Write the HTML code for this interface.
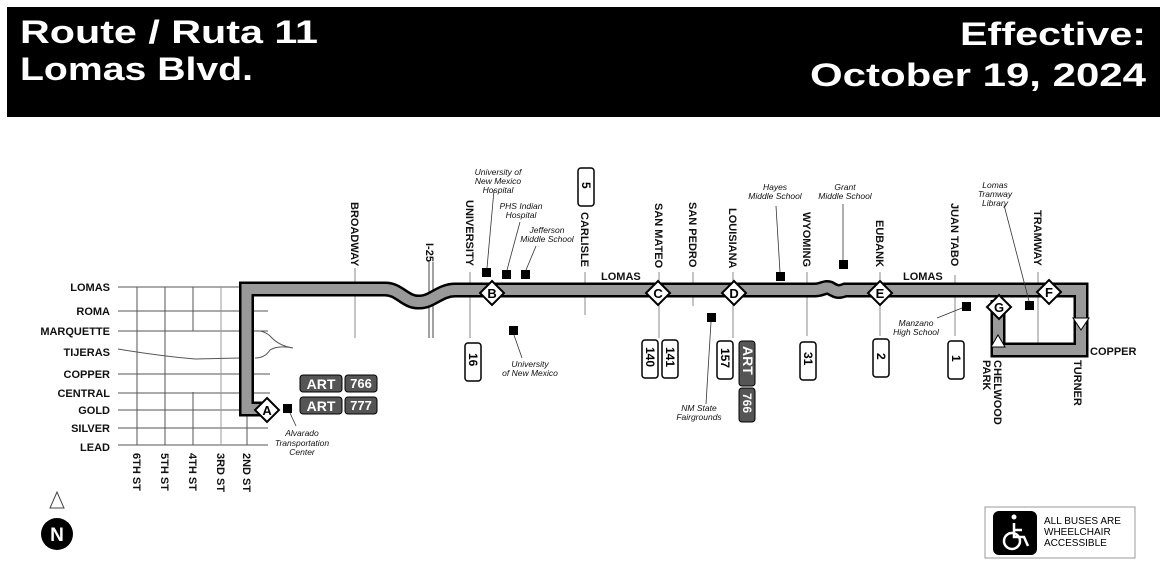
<!DOCTYPE html>
<html><head><meta charset="utf-8"><style>
html,body{margin:0;padding:0;background:#fff;}
svg{display:block;font-family:"Liberation Sans",Arial,sans-serif;}
.st{font-size:11px;font-weight:bold;fill:#111;}
.vs{font-size:11px;font-weight:bold;fill:#111;}
.poi{font-size:8.5px;font-style:italic;fill:#111;}
.ln{stroke:#555;stroke-width:1;fill:none;}
.lg{stroke:#888;stroke-width:1;fill:none;}
</style></head><body>
<svg width="1168" height="576" viewBox="0 0 1168 576" xmlns="http://www.w3.org/2000/svg">
<rect x="7" y="7" width="1153" height="110" fill="#000"/>
<g fill="#fff" font-weight="bold" font-size="32">
<text x="20" y="43" textLength="298" lengthAdjust="spacingAndGlyphs">Route / Ruta 11</text>
<text x="20" y="80" textLength="233" lengthAdjust="spacingAndGlyphs">Lomas Blvd.</text>
<text x="1146" y="45" text-anchor="end" textLength="186" lengthAdjust="spacingAndGlyphs">Effective:</text>
<text x="1146" y="86" text-anchor="end" textLength="336" lengthAdjust="spacingAndGlyphs">October 19, 2024</text>
</g>

<g class="ln">
<line x1="118" y1="287" x2="240" y2="287"/><line x1="118" y1="311" x2="268" y2="311"/>
<line x1="118" y1="331" x2="268" y2="331"/><line x1="118" y1="374" x2="270" y2="374"/>
<line x1="118" y1="393" x2="270" y2="393"/><line x1="118" y1="410" x2="240" y2="410"/>
<line x1="118" y1="428" x2="268" y2="428"/><line x1="118" y1="445" x2="268" y2="445"/>
<line x1="137" y1="287" x2="137" y2="445"/><line x1="165" y1="287" x2="165" y2="445"/>
<line x1="193" y1="287" x2="193" y2="331"/><line x1="193" y1="392" x2="193" y2="445"/>
<line x1="221" y1="287" x2="221" y2="445" stroke="#999"/><line x1="247" y1="410" x2="247" y2="445"/>
<path d="M118,349 Q160,356 195,359 L240,358 M255,358 Q265,358 270,350 Q278,345 293,348 M255,331 Q265,330 272,338 Q280,346 293,348"/>
</g>
<g class="st" text-anchor="end">
<text x="110" y="291">LOMAS</text><text x="110" y="315">ROMA</text><text x="110" y="335">MARQUETTE</text>
<text x="110" y="356">TIJERAS</text><text x="110" y="378">COPPER</text><text x="110" y="397">CENTRAL</text>
<text x="110" y="414">GOLD</text><text x="110" y="432">SILVER</text><text x="110" y="451">LEAD</text>
</g>
<g class="vs">
<text transform="translate(133,453) rotate(90)">6TH ST</text>
<text transform="translate(161,453) rotate(90)">5TH ST</text>
<text transform="translate(189,453) rotate(90)">4TH ST</text>
<text transform="translate(217,453) rotate(90)">3RD ST</text>
<text transform="translate(243,453) rotate(90)">2ND ST</text>
</g>

<g class="lg">
<line x1="355" y1="268" x2="355" y2="338"/>
<line x1="429" y1="262" x2="429" y2="338" stroke="#444"/><line x1="433" y1="262" x2="433" y2="338" stroke="#444"/>
<line x1="470" y1="272" x2="470" y2="338"/>
<line x1="585" y1="272" x2="585" y2="315"/>
<line x1="659" y1="272" x2="659" y2="338"/>
<line x1="693" y1="272" x2="693" y2="306"/>
<line x1="733" y1="272" x2="733" y2="338"/>
<line x1="807" y1="272" x2="807" y2="336"/>
<line x1="880" y1="272" x2="880" y2="336"/>
<line x1="955" y1="275" x2="955" y2="336"/>
<line x1="1038" y1="272" x2="1038" y2="356"/>
</g>
<g class="vs">
<text transform="translate(351,202) rotate(90)">BROADWAY</text>
<text transform="translate(426,243) rotate(90)">I-25</text>
<text transform="translate(466,200) rotate(90)">UNIVERSITY</text>
<text transform="translate(581,212) rotate(90)">CARLISLE</text>
<text transform="translate(655,203) rotate(90)">SAN MATEO</text>
<text transform="translate(689,202) rotate(90)">SAN PEDRO</text>
<text transform="translate(729,208) rotate(90)">LOUISIANA</text>
<text transform="translate(803,212) rotate(90)">WYOMING</text>
<text transform="translate(876,220) rotate(90)">EUBANK</text>
<text transform="translate(951,203) rotate(90)">JUAN TABO</text>
<text transform="translate(1034,210) rotate(90)">TRAMWAY</text>
<text transform="translate(994,360) rotate(90)">CHELWOOD</text>
<text transform="translate(983,360) rotate(90)">PARK</text>
<text transform="translate(1074,360) rotate(90)">TURNER</text>
</g>
<text class="st" x="1090" y="355">COPPER</text>

<g fill="none" stroke-linejoin="miter">
<path d="M262,409 L246.5,409 L246.5,289 L385,289 C400,289 405,303 420,302 C432,302 440,290 455,290 L815,290 C822,290 825,286 830,288 C835,291 838,293 845,290 L1081,290 L1081,350 L998,350 L998,300" stroke="#000" stroke-width="15"/>
<path d="M262,409 L246.5,409 L246.5,289 L385,289 C400,289 405,303 420,302 C432,302 440,290 455,290 L815,290 C822,290 825,286 830,288 C835,291 838,293 845,290 L1081,290 L1081,350 L998,350 L998,300" stroke="#999" stroke-width="10"/>
</g>
<g class="st"><text x="601" y="280">LOMAS</text><text x="903" y="280">LOMAS</text></g>
<polygon points="1073,318 1089,318 1081,330" fill="#fff" stroke="#000"/>
<polygon points="991,347 1005,347 998,335" fill="#fff" stroke="#000"/>

<g font-weight="bold" font-size="13" text-anchor="middle">
<g transform="translate(267,410)"><polygon points="0,-12 12,0 0,12 -12,0" fill="#fff" stroke="#000" stroke-width="2"/><text y="5">A</text></g>
<g transform="translate(492,293)"><polygon points="0,-12 12,0 0,12 -12,0" fill="#fff" stroke="#000" stroke-width="2"/><text y="5">B</text></g>
<g transform="translate(658,293)"><polygon points="0,-12 12,0 0,12 -12,0" fill="#fff" stroke="#000" stroke-width="2"/><text y="5">C</text></g>
<g transform="translate(734,293)"><polygon points="0,-12 12,0 0,12 -12,0" fill="#fff" stroke="#000" stroke-width="2"/><text y="5">D</text></g>
<g transform="translate(880,293)"><polygon points="0,-12 12,0 0,12 -12,0" fill="#fff" stroke="#000" stroke-width="2"/><text y="5">E</text></g>
<g transform="translate(1049,292)"><polygon points="0,-12 12,0 0,12 -12,0" fill="#fff" stroke="#000" stroke-width="2"/><text y="5">F</text></g>
<g transform="translate(999,307)"><polygon points="0,-12 12,0 0,12 -12,0" fill="#fff" stroke="#000" stroke-width="2"/><text y="5">G</text></g>
</g>

<g fill="#000">
<rect x="283" y="404" width="9" height="9"/><rect x="482" y="268" width="9" height="9"/>
<rect x="502" y="270" width="9" height="9"/><rect x="521" y="270" width="9" height="9"/>
<rect x="509" y="326" width="9" height="9"/><rect x="707" y="313" width="9" height="9"/>
<rect x="776" y="272" width="9" height="9"/><rect x="839" y="260" width="9" height="9"/>
<rect x="962" y="302" width="9" height="9"/><rect x="1025" y="301" width="9" height="9"/>
</g>
<g stroke="#333" stroke-width="0.8">
<line x1="290" y1="413" x2="296" y2="426"/><line x1="487" y1="268" x2="494" y2="190"/>
<line x1="507" y1="270" x2="520" y2="222"/><line x1="526" y1="270" x2="536" y2="246"/>
<line x1="514" y1="335" x2="522" y2="358"/><line x1="711" y1="322" x2="706" y2="404"/>
<line x1="780" y1="272" x2="776" y2="206"/><line x1="843" y1="260" x2="843" y2="204"/>
<line x1="962" y1="308" x2="937" y2="318"/><line x1="1029" y1="301" x2="1004" y2="205"/>
</g>
<g class="poi" text-anchor="middle">
<text x="302" y="436">Alvarado</text><text x="302" y="446">Transportation</text><text x="302" y="455">Center</text>
<text x="498" y="175">University of</text><text x="498" y="184">New Mexico</text><text x="498" y="193">Hospital</text>
<text x="521" y="209">PHS Indian</text><text x="521" y="218">Hospital</text>
<text x="547" y="233">Jefferson</text><text x="547" y="242">Middle School</text>
<text x="530" y="367">University</text><text x="530" y="376">of New Mexico</text>
<text x="699" y="411">NM State</text><text x="699" y="420">Fairgrounds</text>
<text x="775" y="190">Hayes</text><text x="775" y="199">Middle School</text>
<text x="845" y="190">Grant</text><text x="845" y="199">Middle School</text>
<text x="916" y="326">Manzano</text><text x="916" y="335">High School</text>
<text x="995" y="188">Lomas</text><text x="995" y="197">Tramway</text><text x="995" y="206">Library</text>
</g>

<g font-weight="bold" font-size="12">
<g transform="translate(578,168)"><rect width="16" height="38" rx="3" fill="#fff" stroke="#000" stroke-width="1.5"/><text transform="translate(4,14) rotate(90)">5</text></g>
<g transform="translate(465,343)"><rect width="16" height="38" rx="3" fill="#fff" stroke="#000" stroke-width="1.5"/><text transform="translate(4,10) rotate(90)">16</text></g>
<g transform="translate(642,340)"><rect width="16" height="38" rx="3" fill="#fff" stroke="#000" stroke-width="1.5"/><text transform="translate(4,7) rotate(90)">140</text></g>
<g transform="translate(662,340)"><rect width="16" height="38" rx="3" fill="#fff" stroke="#000" stroke-width="1.5"/><text transform="translate(4,7) rotate(90)">141</text></g>
<g transform="translate(717,341)"><rect width="16" height="38" rx="3" fill="#fff" stroke="#000" stroke-width="1.5"/><text transform="translate(4,7) rotate(90)">157</text></g>
<g transform="translate(739,341)"><rect width="16" height="45" rx="3" fill="#555" stroke="#000"/><text transform="translate(4,5) rotate(90)" fill="#fff" font-size="14">ART</text></g>
<g transform="translate(739,388)"><rect width="16" height="34" rx="3" fill="#555" stroke="#000"/><text transform="translate(4,5) rotate(90)" fill="#fff">766</text></g>
<g transform="translate(800,342)"><rect width="16" height="38" rx="3" fill="#fff" stroke="#000" stroke-width="1.5"/><text transform="translate(4,10) rotate(90)">31</text></g>
<g transform="translate(873,339)"><rect width="16" height="38" rx="3" fill="#fff" stroke="#000" stroke-width="1.5"/><text transform="translate(4,14) rotate(90)">2</text></g>
<g transform="translate(948,341)"><rect width="16" height="38" rx="3" fill="#fff" stroke="#000" stroke-width="1.5"/><text transform="translate(4,14) rotate(90)">1</text></g>
</g>
<g font-weight="bold" fill="#fff">
<rect x="300" y="375" width="42" height="17" rx="3" fill="#555" stroke="#000"/><text x="321" y="389" text-anchor="middle" font-size="14">ART</text>
<rect x="345" y="375" width="32" height="17" rx="3" fill="#555" stroke="#000"/><text x="361" y="388" text-anchor="middle" font-size="13">766</text>
<rect x="300" y="397" width="42" height="17" rx="3" fill="#555" stroke="#000"/><text x="321" y="411" text-anchor="middle" font-size="14">ART</text>
<rect x="345" y="397" width="32" height="17" rx="3" fill="#555" stroke="#000"/><text x="361" y="410" text-anchor="middle" font-size="13">777</text>
</g>

<polygon points="57,492 50,508 64,508" fill="#fff" stroke="#444"/>
<circle cx="57" cy="534" r="16" fill="#000"/>
<text x="57" y="541" text-anchor="middle" fill="#fff" font-weight="bold" font-size="19">N</text>

<rect x="985" y="507" width="150" height="51" fill="#fff" stroke="#999"/>
<rect x="993" y="511" width="44" height="44" rx="6" fill="#000"/>
<g stroke="#fff" stroke-width="2.5" fill="none"><circle cx="1012" cy="541" r="8"/><path d="M1014,523 L1014,537 L1024,537 L1028,546"/><path d="M1014,530 L1022,530"/></g>
<circle cx="1014" cy="517" r="2.5" fill="#fff"/>
<g font-size="10" fill="#000"><text x="1044" y="524">ALL BUSES ARE</text><text x="1044" y="535">WHEELCHAIR</text><text x="1044" y="546">ACCESSIBLE</text></g>
</svg>
</body></html>
